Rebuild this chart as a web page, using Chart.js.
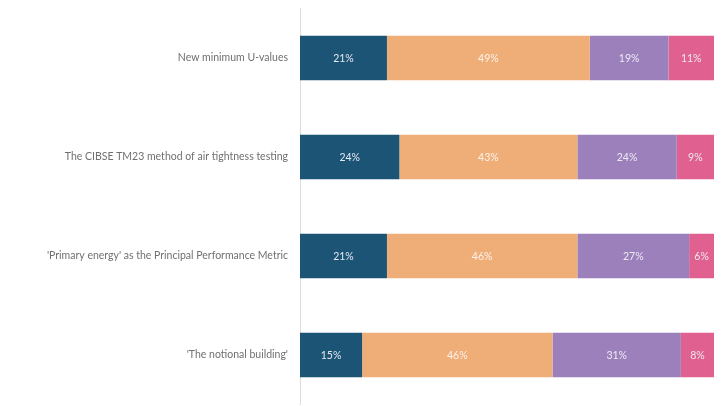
<!DOCTYPE html>
<html>
<head>
<meta charset="utf-8">
<script src="https://cdn.jsdelivr.net/npm/chart.js@4.4.1/dist/chart.umd.min.js"></script>
<style>
  html, body { margin: 0; padding: 0; background: #ffffff; overflow: hidden; }
  canvas { display: block; }
</style>
</head>
<body>
<canvas id="chart" width="722" height="406"></canvas>
<script>
// Survey topics and share of responses per answer band (%)
const categories = [
  "New minimum U-values",
  "The CIBSE TM23 method of air tightness testing",
  "'Primary energy' as the Principal Performance Metric",
  "'The notional building'"
];
const band1 = [21, 24, 21, 15];
const band2 = [49, 43, 46, 46];
const band3 = [19, 24, 27, 31];
const band4 = [11, 9, 6, 8];

const bandColors = ["#1c5475", "#efad78", "#9c80bb", "#e0608f"];
const bandLabels = ["Band 1", "Band 2", "Band 3", "Band 4"];

// Writes each segment's percentage in the middle of its bar
const segmentLabels = {
  id: "segmentLabels",
  afterDatasetsDraw(chart) {
    const ctx = chart.ctx;
    ctx.save();
    ctx.font = "10.5px Lato, 'Open Sans', sans-serif";
    ctx.textAlign = "center";
    ctx.textBaseline = "middle";
    chart.data.datasets.forEach((ds, di) => {
      const meta = chart.getDatasetMeta(di);
      meta.data.forEach((bar, i) => {
        const v = ds.data[i];
        const cx = (bar.x + bar.base) / 2;
        ctx.fillStyle = di === 1 ? "rgba(255,255,255,0.85)" : "rgba(240,240,248,0.95)";
        ctx.fillText(v + "%", cx, bar.y + 0.5);
      });
    });
    ctx.restore();
  }
};

const seriesValues = [band1, band2, band3, band4];

new Chart(document.getElementById("chart"), {
  type: "bar",
  data: {
    labels: categories,
    datasets: seriesValues.map((vals, k) => ({
      label: bandLabels[k],
      data: vals,
      backgroundColor: bandColors[k],
      borderWidth: 0,
      categoryPercentage: 1,
      barPercentage: 0.45
    }))
  },
  options: {
    indexAxis: "y",
    responsive: false,
    animation: false,
    layout: { autoPadding: false, padding: { left: 0, right: 8, top: 8.5, bottom: 1.5 } },
    plugins: {
      legend: { display: false },
      tooltip: { enabled: false }
    },
    scales: {
      x: {
        stacked: true,
        min: 0,
        max: 100,
        display: false
      },
      y: {
        stacked: true,
        grid: { display: false, drawTicks: false },
        border: { display: true, color: "#dcdcdc", width: 1 },
        ticks: {
          color: "#707070",
          padding: 12,
          font: { family: "Lato, 'Open Sans', sans-serif", size: 10.5 }
        },
        afterFit(scale) {
          // fixed label column; bars run the full height of the plot
          scale.width = 300;
          scale.paddingTop = 0;
          scale.paddingBottom = 0;
        }
      }
    }
  },
  plugins: [segmentLabels]
});
</script>
</body>
</html>
